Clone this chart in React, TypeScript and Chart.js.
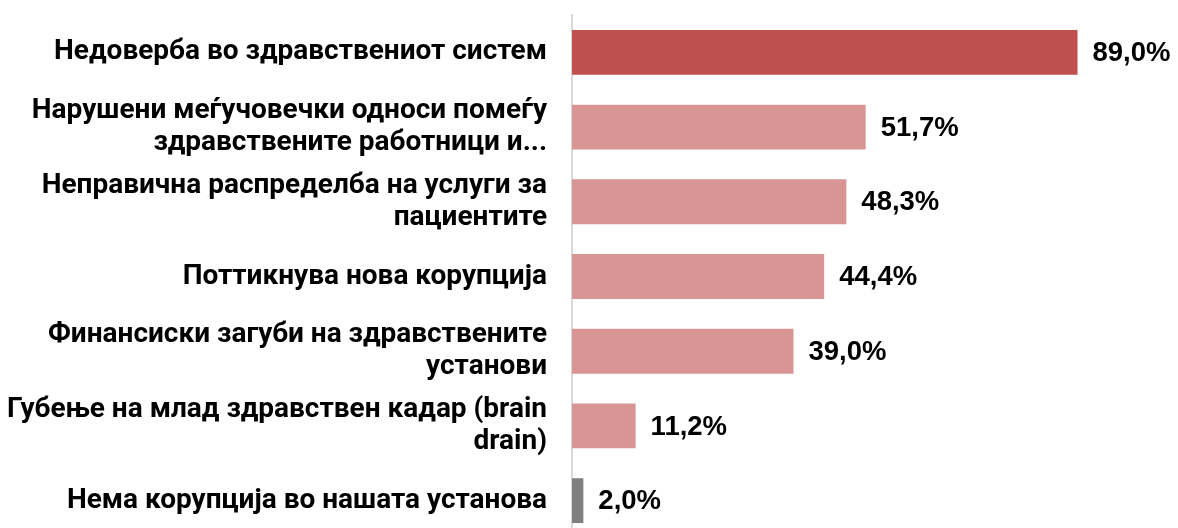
import { useEffect, useRef } from "react";
import { Chart, registerables } from "chart.js";

Chart.register(...registerables);

const categories: string[][] = [
  ["Недоверба во здравствениот систем"],
  ["Нарушени меѓучовечки односи помеѓу", "здравствените работници и..."],
  ["Неправична распределба на услуги за", "пациентите"],
  ["Поттикнува нова корупција"],
  ["Финансиски загуби на здравствените", "установи"],
  ["Губење на млад здравствен кадар (brain", "drain)"],
  ["Нема корупција во нашата установа"],
];
const values = [89.0, 51.7, 48.3, 44.4, 39.0, 11.2, 2.0];
const valueLabels = ["89,0%", "51,7%", "48,3%", "44,4%", "39,0%", "11,2%", "2,0%"];
const barColors = ["#C0504D", "#D99594", "#D99594", "#D99594", "#D99594", "#D99594", "#7F7F7F"];

const LABEL_FONT = "Roboto";
const VALUE_FONT = "Liberation Sans";

export default function App() {
  const ref = useRef<HTMLCanvasElement | null>(null);
  useEffect(() => {
    if (!ref.current) return;
    const valuePlugin = {
      id: "valueLabels",
      afterDatasetsDraw(chart: any) {
        const ctx = chart.ctx;
        const meta = chart.getDatasetMeta(0);
        ctx.save();
        ctx.font = `bold 27.5px "${VALUE_FONT}"`;
        ctx.fillStyle = "#000";
        ctx.textAlign = "left";
        ctx.textBaseline = "middle";
        meta.data.forEach((bar: any, i: number) => {
          ctx.fillText(valueLabels[i], bar.x + 15, bar.y + 1);
        });
        ctx.restore();
      },
    };
    const chart = new Chart(ref.current, {
      type: "bar",
      data: {
        labels: categories,
        datasets: [
          {
            data: values,
            backgroundColor: barColors,
            borderWidth: 0,
            barPercentage: 0.6,
            categoryPercentage: 1,
          },
        ],
      },
      options: {
        indexAxis: "y",
        animation: false,
        responsive: false,
        layout: { padding: { top: 15, right: 38, bottom: 0, left: 0 } },
        plugins: { legend: { display: false }, tooltip: { enabled: false } },
        scales: {
          x: { display: false, min: 0, max: 100 },
          y: {
            afterFit(scale: any) {
              scale.width = 572;
              scale.paddingTop = 0;
              scale.paddingBottom = 0;
            },
            grid: { display: false, drawTicks: false },
            border: { display: true, color: "#D9D9D9", width: 2 },
            ticks: {
              color: "#000",
              padding: 25,
              font: { family: LABEL_FONT, weight: "bold", size: 28, lineHeight: 1.16 },
            },
          },
        },
      },
      plugins: [valuePlugin],
    });
    return () => chart.destroy();
  }, []);
  return (
    <div style={{ position: "fixed", left: 0, top: 0, width: 1178, height: 528, overflow: "hidden", background: "#fff" }}>
      <canvas ref={ref} width={1178} height={538} />
    </div>
  );
}
